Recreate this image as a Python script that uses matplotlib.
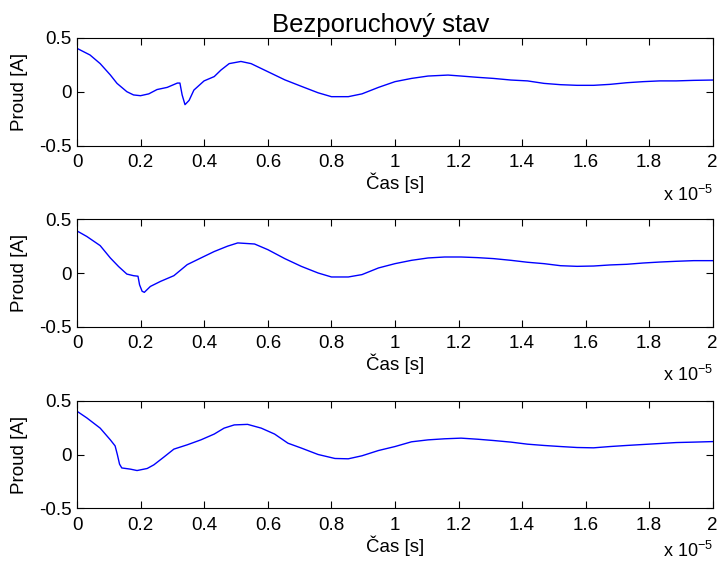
import numpy as np
import matplotlib.pyplot as plt
from matplotlib.ticker import FuncFormatter

plt.rcParams['font.family'] = ['Liberation Sans', 'DejaVu Sans']
plt.rcParams['axes.unicode_minus'] = False
plt.rcParams['mathtext.fontset'] = 'custom'
plt.rcParams['mathtext.rm'] = 'Liberation Sans'
plt.rcParams['mathtext.it'] = 'Liberation Sans:italic'

# time in units of 1e-5 s, current in A
t1 = [0, 0.04, 0.072, 0.104, 0.125, 0.156, 0.177, 0.199, 0.225, 0.251,
      0.283, 0.315, 0.323, 0.33, 0.339, 0.352, 0.367, 0.399, 0.431, 0.452,
      0.478, 0.515, 0.547, 0.60, 0.653, 0.705, 0.758, 0.80, 0.853, 0.896,
      0.948, 1.0, 1.052, 1.104, 1.167, 1.208, 1.26, 1.31, 1.365, 1.417,
      1.469, 1.521, 1.573, 1.625, 1.677, 1.729, 1.781, 1.833, 1.885, 1.94, 2.0]
i1 = [0.40, 0.34, 0.26, 0.155, 0.077, 0.0, -0.03, -0.037, -0.02, 0.02,
      0.04, 0.08, 0.08, -0.03, -0.12, -0.08, 0.015, 0.10, 0.14, 0.20,
      0.26, 0.28, 0.26, 0.185, 0.11, 0.05, -0.01, -0.046, -0.046, -0.02,
      0.04, 0.093, 0.123, 0.145, 0.154, 0.145, 0.133, 0.123, 0.108, 0.10,
      0.077, 0.065, 0.059, 0.059, 0.068, 0.083, 0.093, 0.10, 0.10, 0.105, 0.108]

t2 = [0, 0.03, 0.072, 0.104, 0.13, 0.156, 0.177, 0.191, 0.196, 0.204,
      0.211, 0.23, 0.262, 0.304, 0.346, 0.389, 0.431, 0.473, 0.505, 0.558,
      0.60, 0.653, 0.705, 0.758, 0.80, 0.853, 0.896, 0.948, 1.0, 1.052,
      1.104, 1.156, 1.208, 1.26, 1.31, 1.365, 1.417, 1.469, 1.521, 1.573,
      1.625, 1.677, 1.729, 1.781, 1.833, 1.885, 1.94, 2.0]
i2 = [0.39, 0.34, 0.255, 0.14, 0.06, -0.01, -0.025, -0.03, -0.11, -0.17,
      -0.18, -0.125, -0.078, -0.025, 0.078, 0.14, 0.20, 0.25, 0.28, 0.27,
      0.217, 0.134, 0.062, 0.0, -0.037, -0.037, -0.015, 0.047, 0.087, 0.118,
      0.14, 0.149, 0.149, 0.143, 0.134, 0.118, 0.10, 0.087, 0.068, 0.062,
      0.065, 0.075, 0.081, 0.093, 0.102, 0.109, 0.115, 0.115]

t3 = [0, 0.03, 0.072, 0.104, 0.119, 0.126, 0.133, 0.14, 0.167, 0.188,
      0.22, 0.241, 0.272, 0.304, 0.346, 0.389, 0.431, 0.462, 0.494, 0.536,
      0.579, 0.621, 0.663, 0.705, 0.758, 0.811, 0.853, 0.896, 0.948, 1.0,
      1.052, 1.104, 1.156, 1.208, 1.26, 1.31, 1.365, 1.417, 1.469, 1.521,
      1.573, 1.625, 1.677, 1.729, 1.781, 1.833, 1.885, 1.94, 2.0]
i3 = [0.40, 0.34, 0.245, 0.136, 0.08, 0.0, -0.09, -0.125, -0.136, -0.149,
      -0.13, -0.096, -0.025, 0.05, 0.09, 0.136, 0.19, 0.245, 0.275, 0.28,
      0.245, 0.19, 0.105, 0.06, 0.0, -0.037, -0.04, -0.012, 0.037, 0.074,
      0.118, 0.136, 0.146, 0.152, 0.142, 0.13, 0.115, 0.096, 0.084, 0.074,
      0.065, 0.062, 0.074, 0.084, 0.093, 0.102, 0.111, 0.115, 0.12]

xticks = [0, 0.2, 0.4, 0.6, 0.8, 1.0, 1.2, 1.4, 1.6, 1.8, 2.0]
yticks = [-0.5, 0, 0.5]

W, H = 719, 564
fig = plt.figure(figsize=(W / 100, H / 100), dpi=100)

left, right = 77.3, 712.7
panels = [(37.7, 145.7), (219.3, 326.7), (400.7, 508.3)]
offset_gap = [55, 54, 49]  # pixels from axes bottom to "x 10^-5" baseline
series = [(t1, i1), (t2, i2), (t3, i3)]

for k, ((top, bot), (t, i)) in enumerate(zip(panels, series)):
    ax = fig.add_axes([left / W, 1 - bot / H, (right - left) / W, (bot - top) / H])
    ax.plot(t, i, color='#0000ff', lw=1.0)
    ax.set_xlim(0, 2)
    ax.set_ylim(-0.5, 0.5)
    ax.set_xticks(xticks)
    ax.set_yticks(yticks)
    ax.xaxis.set_major_formatter(FuncFormatter(lambda v, p: f'{v:g}'))
    ax.yaxis.set_major_formatter(FuncFormatter(lambda v, p: f'{v:g}'))
    ax.tick_params(direction='in', top=True, right=True, length=5, width=0.8,
                   labelsize=13.5)
    ax.tick_params(axis='x', pad=6)
    ax.tick_params(axis='y', pad=4)
    for s in ax.spines.values():
        s.set_linewidth(0.8)
    ax.set_xlabel('Čas [s]', fontsize=13.5, labelpad=1)
    ax.set_ylabel('Proud [A]', fontsize=13.5, labelpad=8)
    fig.text(right / W, 1 - (bot + offset_gap[k]) / H, r'x 10$^{-5}$', fontsize=13,
             ha='right', va='baseline')
    if k == 0:
        ax.set_title('Bezporuchový stav', fontsize=18.5, pad=4, x=0.477)

fig.savefig('out.png', dpi=100)
